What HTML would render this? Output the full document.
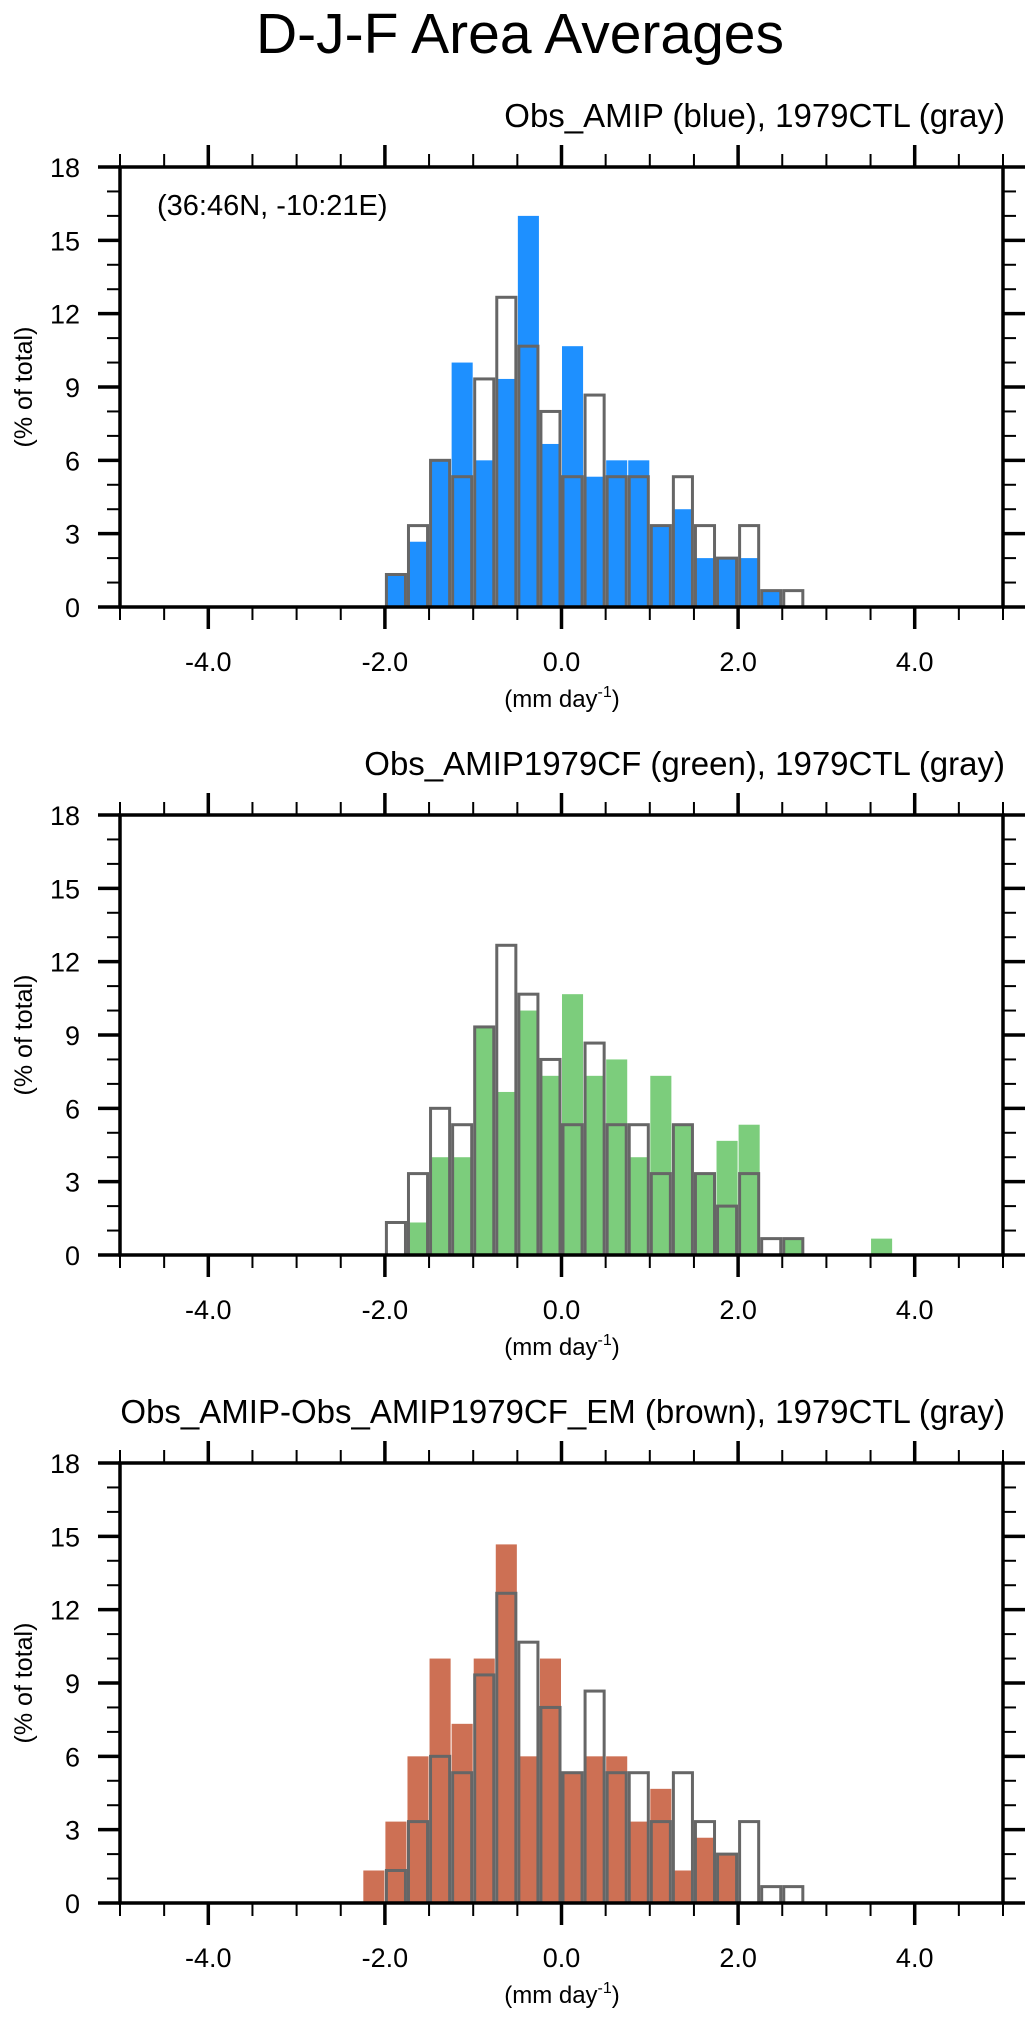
<!DOCTYPE html>
<html><head><meta charset="utf-8"><style>
html,body{margin:0;padding:0;background:#fff;}
svg{display:block;font-family:"Liberation Sans",Arial,sans-serif;}
</style></head><body>
<svg id="chart" width="1036" height="2020" viewBox="0 0 1036 2020" xmlns="http://www.w3.org/2000/svg">
<text x="520" y="53" font-size="57" text-anchor="middle">D-J-F Area Averages</text>
</svg>
<script>
// ---- data ----
const binWidth = 0.25;
const xTickLabels = ["-4.0","-2.0","0.0","2.0","4.0"];
const xTickValues = [-4,-2,0,2,4];
const yTickValues = [0,3,6,9,12,15,18];
const grayStart = -2.0;
const grayValues = [1.33,3.33,6,5.33,9.33,12.67,10.67,8,5.33,8.67,5.33,5.33,3.33,5.33,3.33,2,3.33,0.67,0.67];
const blueStart = -2.0;
const blueValues = [1.33,2.67,6,10,6,9.33,16,6.67,10.67,5.33,6,6,3.33,4,2,2,2,0.67,0];
const greenStart = -2.0;
const greenValues = [0,1.33,4,4,9.33,6.67,10,7.33,10.67,7.33,8,4,7.33,5.33,3.33,4.67,5.33,0,0.67,0,0,0,0.67];
const brownStart = -2.25;
const brownValues = [1.33,3.33,6,10,7.33,10,14.67,6,10,5.33,6,6,3.33,4.67,1.33,2.67,2];
const subtitles = ["Obs_AMIP (blue), 1979CTL (gray)","Obs_AMIP1979CF (green), 1979CTL (gray)","Obs_AMIP-Obs_AMIP1979CF_EM (brown), 1979CTL (gray)"];

const NS="http://www.w3.org/2000/svg";
const svg=document.getElementById('chart');
function mk(tag,attrs,parent){const e=document.createElementNS(NS,tag);for(const k in attrs)e.setAttribute(k,attrs[k]);(parent||svg).appendChild(e);return e;}

const L=120,R=1003,H=440,xMin=-5,xMax=5,yMax=18;
const panels=[
 {top:167,start:blueStart,vals:blueValues,color:"#1e90ff",name:"blue"},
 {top:815,start:greenStart,vals:greenValues,color:"#7ccd7c",name:"green"},
 {top:1463,start:brownStart,vals:brownValues,color:"#cd7054",name:"brown"}
];
panels.forEach((p,pi)=>{
  const B=p.top+H;
  const xs=v=>L+(v-xMin)/(xMax-xMin)*(R-L);
  const ys=v=>B-v/yMax*H;
  const g=mk('g',{});
  
  
  const st=mk('text',{x:R+2,y:p.top-40,'font-size':33,'text-anchor':'end'},g);
  st.textContent=subtitles[pi];
  
  
  p.vals.forEach((v,i)=>{
    if(v<=0)return;
    const x0=xs(p.start+i*binWidth),x1=xs(p.start+(i+1)*binWidth);
    const r=mk('rect',{x:x0+0.5,y:ys(v),width:x1-x0-1,height:B-ys(v),fill:p.color},g);
    
    
  });
  grayValues.forEach((v,i)=>{
    if(v<=0)return;
    const x0=xs(grayStart+i*binWidth),x1=xs(grayStart+(i+1)*binWidth);
    const r=mk('rect',{x:x0+1.5,y:ys(v),width:x1-x0-3,height:B-ys(v),fill:'none',stroke:'#666','stroke-width':3},g);
    
    
  });
  const fr=mk('rect',{x:L,y:p.top,width:R-L,height:H,fill:'none',stroke:'#000','stroke-width':3.5},g);
  
  
  for(let k=0;k<=20;k++){
    const v=xMin+k*0.5;const x=xs(v);const maj=(Math.abs(v%2)<1e-9)&&Math.abs(v)!==5?1:0;
    const len=maj?22:13;const w=maj?3.5:2;
    mk('line',{x1:x,y1:B,x2:x,y2:B+len,stroke:'#000','stroke-width':w},g);
    mk('line',{x1:x,y1:p.top,x2:x,y2:p.top-len,stroke:'#000','stroke-width':w},g);
  }
  xTickValues.forEach((v,i)=>{
    const t=mk('text',{x:xs(v),y:B+64,'font-size':27,'text-anchor':'middle'},g);
    t.textContent=xTickLabels[i];
    
    
  });
  for(let v=0;v<=18;v++){
    const y=ys(v);const maj=v%3===0;const len=maj?22:13;const w=maj?3.5:2;
    mk('line',{x1:L,y1:y,x2:L-len,y2:y,stroke:'#000','stroke-width':w},g);
    mk('line',{x1:R,y1:y,x2:R+len,y2:y,stroke:'#000','stroke-width':w},g);
  }
  yTickValues.forEach(v=>{
    const t=mk('text',{x:80,y:ys(v)+10,'font-size':27,'text-anchor':'end'},g);
    t.textContent=String(v);
    
    
  });
  const yl=mk('text',{x:0,y:0,'font-size':25,'text-anchor':'middle',transform:`translate(32,${p.top+H/2}) rotate(-90)`},g);
  yl.textContent="(% of total)";
  
  
  const xl=mk('text',{x:562,y:B+100,'font-size':24,'text-anchor':'middle'},g);
  xl.innerHTML='(mm day<tspan dy="-10" font-size="16">-1</tspan><tspan dy="10">)</tspan>';
  
  
  if(pi===0){
    const rg=mk('text',{x:157,y:p.top+48,'font-size':29},g);
    rg.textContent="(36:46N, -10:21E)";
    
    
  }
});
</script>
</body></html>
